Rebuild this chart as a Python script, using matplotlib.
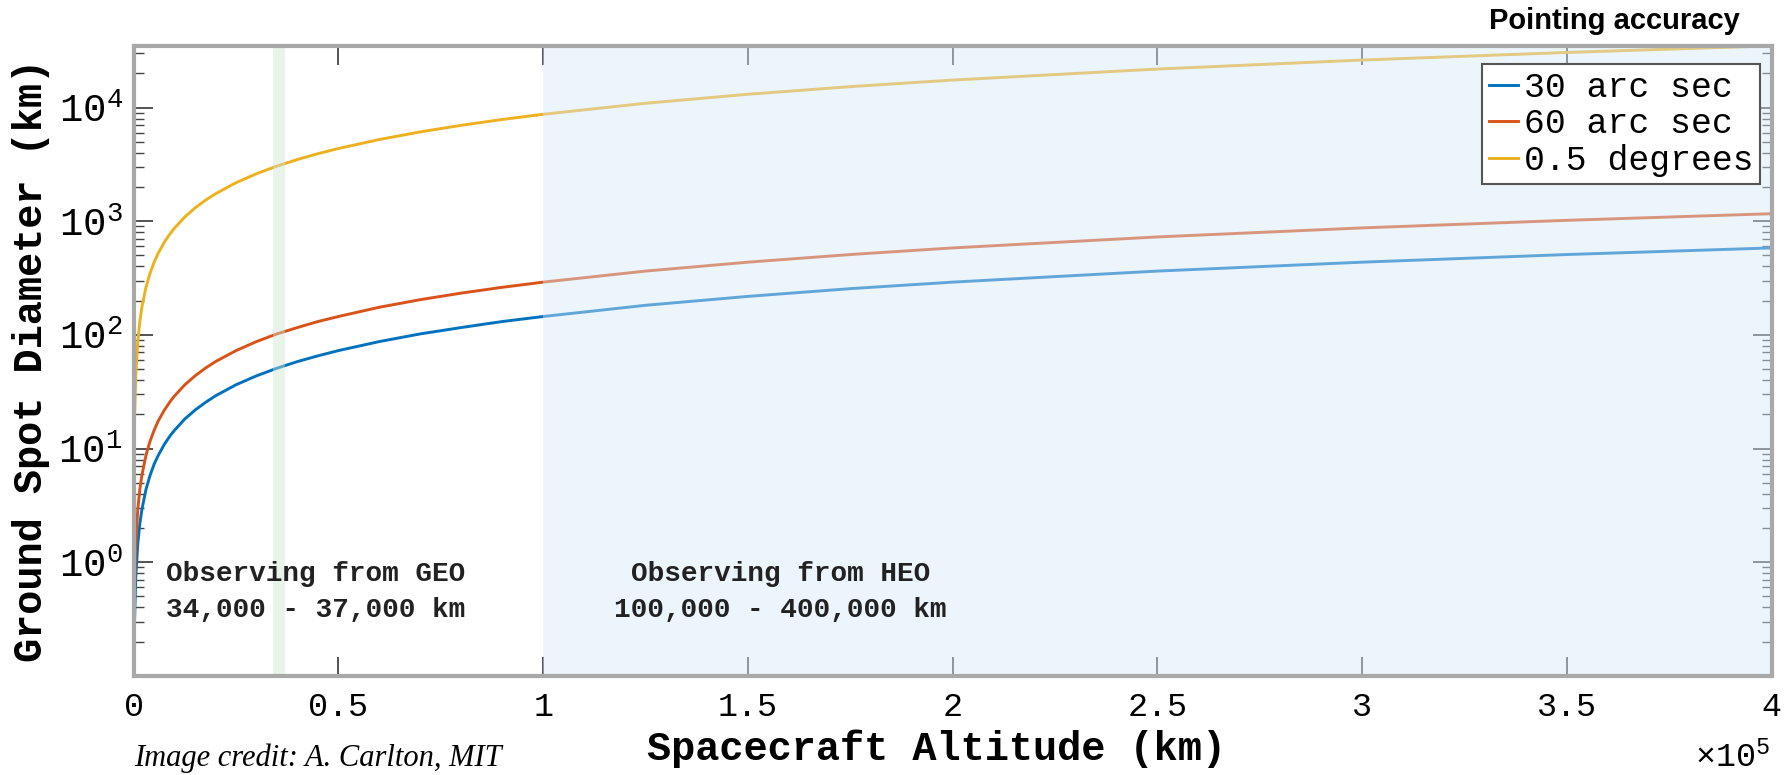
# Ground spot diameter vs spacecraft altitude for three pointing accuracies

import matplotlib.pyplot as plt
from matplotlib.ticker import FixedLocator, LogLocator, NullFormatter


# altitude samples (km) and spot diameters (km)
altitude_km = [1, 2, 5, 10, 20, 50, 100, 200, 500, 1000,
               1500, 2000, 3000, 4000, 5000, 6000, 7500, 9000, 10000,
               12500, 15000, 17500, 20000, 25000, 30000, 35000, 40000, 45000, 50000,
               60000, 70000, 80000, 90000, 100000,
               125000, 150000, 175000, 200000,
               250000, 300000, 350000, 400000]
spot_30arcsec = [0.00145, 0.0029, 0.0073, 0.0145, 0.029, 0.073, 0.145, 0.29, 0.73, 1.45,
                 2.18, 2.9, 4.36, 5.8, 7.3, 8.7, 10.9, 13.1, 14.5,
                 18.2, 21.8, 25.4, 29.1, 36.4, 43.6, 50.9, 58.2, 65.4, 72.7,
                 87.3, 102, 116, 131, 145,
                 182, 218, 255, 291,
                 364, 436, 509, 582]
spot_60arcsec = [0.0029, 0.0058, 0.0145, 0.029, 0.058, 0.145, 0.29, 0.58, 1.45, 2.9,
                 4.36, 5.8, 8.7, 11.6, 14.5, 17.5, 21.8, 26.2, 29.1,
                 36.4, 43.6, 50.9, 58.2, 72.7, 87.3, 102, 116, 131, 145,
                 175, 204, 233, 262, 291,
                 364, 436, 509, 582,
                 727, 873, 1018, 1164]
spot_half_deg = [0.087, 0.175, 0.44, 0.87, 1.75, 4.36, 8.73, 17.5, 43.6, 87.3,
                 131, 175, 262, 349, 436, 524, 655, 785, 873,
                 1091, 1309, 1527, 1745, 2182, 2618, 3054, 3491, 3927, 4363,
                 5236, 6109, 6981, 7854, 8727,
                 10908, 13090, 15272, 17453,
                 21817, 26180, 30543, 34907]

series_labels = ['30 arc sec', '60 arc sec', '0.5 degrees']
series_colors = ['#0072BD', '#D95319', '#EDB120']

geo_range = (34000, 37000)
heo_range = (100000, 400000)

x_ticks = [0, 50000, 100000, 150000, 200000, 250000, 300000, 350000, 400000]
x_tick_labels = ['0', '0.5', '1', '1.5', '2', '2.5', '3', '3.5', '4']
y_ticks = [1, 10, 100, 1000, 10000]

MONO = 'Liberation Mono'

fig = plt.figure(figsize=(17.92, 7.75), dpi=100)
ax = fig.add_axes([0.0746, 0.128, 0.914, 0.813])

for ys, lab, col in zip([spot_30arcsec, spot_60arcsec, spot_half_deg],
                        series_labels, series_colors):
    ax.plot(altitude_km, ys, color=col, lw=2.1, label=lab, zorder=2)

# shaded orbit regions sit over the curves so the lines look faded inside them
ax.axvspan(*geo_range, color=(204/255, 229/255, 209/255), alpha=0.45, lw=0, zorder=3)
ax.axvspan(*heo_range, color=(215/255, 231/255, 249/255), alpha=0.45, lw=0, zorder=3)

ax.set_yscale('log')
ax.set_xlim(0, 400000)
ax.set_ylim(0.1, 35000)

ax.xaxis.set_major_locator(FixedLocator(x_ticks))
ax.set_xticklabels(x_tick_labels, fontfamily=MONO, fontsize=24)
ax.yaxis.set_major_locator(FixedLocator(y_ticks))
ax.set_yticklabels([r'$\mathregular{10^{%d}}$' % i for i in range(5)],
                   fontfamily=MONO, fontsize=28)
ax.yaxis.set_minor_locator(LogLocator(base=10, subs=range(2, 10), numticks=20))
ax.yaxis.set_minor_formatter(NullFormatter())

ax.tick_params(which='both', direction='in', top=True, right=True, color='#444444')
ax.tick_params(which='major', length=14, width=1.3)
ax.tick_params(axis='x', which='major', pad=12)
ax.tick_params(axis='y', which='major', pad=8)
ax.tick_params(which='minor', length=7, width=1.0)
for s in ax.spines.values():
    s.set_color('#a8a8a8')
    s.set_linewidth(3)
    s.set_zorder(6)

ax.set_xlabel('Spacecraft Altitude (km)', fontfamily=MONO, fontweight='bold',
              fontsize=29, labelpad=6)
ax.xaxis.set_label_coords(0.49, -0.085)
ax.set_ylabel('Ground Spot Diameter (km)', fontfamily=MONO, fontweight='bold',
              fontsize=29, labelpad=6)

ax.text(8000, 0.55, 'Observing from GEO\n34,000 - 37,000 km', fontfamily=MONO,
        fontweight='bold', fontsize=20, ha='left', va='center', linespacing=1.5,
        color='#222222', zorder=4)
ax.text(158000, 0.55, 'Observing from HEO\n100,000 - 400,000 km', fontfamily=MONO,
        fontweight='bold', fontsize=20, ha='center', va='center', linespacing=1.5,
        multialignment='center', color='#222222', zorder=4)

leg = ax.legend(loc='upper right', bbox_to_anchor=(0.993, 0.971), borderaxespad=0,
                prop={'family': MONO, 'size': 25}, handlelength=0.85,
                handletextpad=0.15, labelspacing=0.1, borderpad=0.2,
                fancybox=False, framealpha=1)
leg.get_frame().set_edgecolor('#555555')
leg.get_frame().set_linewidth(1.5)
leg.set_zorder(7)

fig.text(0.988, 0.022, r'$\mathregular{\times 10^{5}}$', fontfamily=MONO,
         fontsize=24, ha='right', va='center')
fig.text(0.971, 0.973, 'Pointing accuracy', fontfamily='Liberation Sans',
         fontweight='bold', fontsize=21, ha='right', va='center')
fig.text(0.0746, 0.022, 'Image credit: A. Carlton, MIT', fontfamily='Liberation Serif',
         fontstyle='italic', fontsize=22, ha='left', va='center')

fig.savefig('out.png', dpi=100)
